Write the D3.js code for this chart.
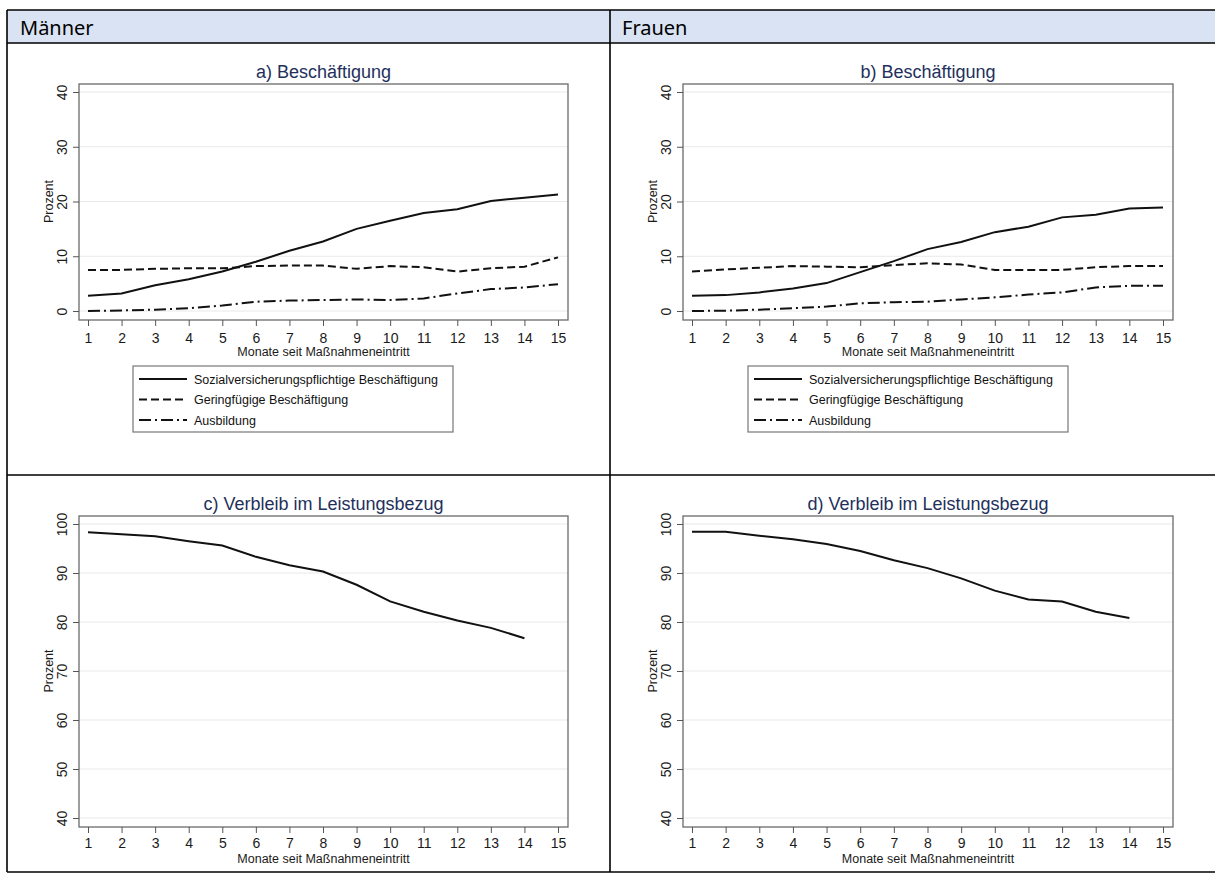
<!DOCTYPE html>
<html>
<head>
  <meta charset="utf-8">
  <title>Beschäftigung und Leistungsbezug</title>
  <script src="https://d3js.org/d3.v7.min.js"></script>
  <style>
    body { margin: 0; background: #fff; }
    text { font-family: "Liberation Sans", Arial, sans-serif; }
  </style>
</head>
<body>

  <svg></svg>

  <script>

    // months since entry (x axis)
    var months = [1, 2, 3, 4, 5, 6, 7, 8, 9, 10, 11, 12, 13, 14, 15];

    // Männer: employment shares (percent)
    var menSvb     = [2.8, 3.2, 4.7, 5.8, 7.2, 9.0, 11.0, 12.7, 15.0, 16.5, 17.9, 18.6, 20.1, 20.7, 21.3];
    var menGering  = [7.5, 7.5, 7.7, 7.8, 7.8, 8.2, 8.3, 8.3, 7.7, 8.2, 8.0, 7.2, 7.8, 8.1, 9.8];
    var menAusb    = [0.0, 0.1, 0.25, 0.5, 1.0, 1.7, 1.9, 2.0, 2.1, 2.0, 2.3, 3.2, 4.0, 4.3, 4.9];

    // Frauen: employment shares (percent)
    var womenSvb    = [2.8, 2.9, 3.4, 4.1, 5.1, 7.1, 9.1, 11.3, 12.6, 14.4, 15.4, 17.1, 17.6, 18.7, 18.9];
    var womenGering = [7.2, 7.6, 7.9, 8.2, 8.1, 8.0, 8.4, 8.7, 8.5, 7.5, 7.5, 7.5, 8.0, 8.2, 8.2];
    var womenAusb   = [0.0, 0.05, 0.25, 0.5, 0.8, 1.4, 1.6, 1.7, 2.1, 2.5, 3.0, 3.4, 4.3, 4.6, 4.6];

    // still receiving benefits (percent), months 1..14
    var menLeist   = [98.3, 97.9, 97.5, 96.5, 95.6, 93.3, 91.6, 90.3, 87.6, 84.2, 82.1, 80.3, 78.8, 76.7];
    var womenLeist = [98.4, 98.4, 97.6, 96.9, 95.9, 94.5, 92.6, 91.0, 88.9, 86.4, 84.6, 84.2, 82.1, 80.8];

    var employTicks = [0, 10, 20, 30, 40];
    var leistTicks  = [40, 50, 60, 70, 80, 90, 100];

    var legendLabels = ["Sozialversicherungspflichtige Beschäftigung", "Geringfügige Beschäftigung", "Ausbildung"];
    var dashes = [null, "8,4", "12,4,2,4"];

    var svg = d3.select("svg")
        .attr("width", 1215)
        .attr("height", 874);

    // table frame around the four graphs
    svg.append("rect")
        .attr("x", 7).attr("y", 10)
        .attr("width", 1208).attr("height", 33)
        .attr("fill", "#dae3f3");

    var tableLines = [
      [7, 10, 1215, 10], [7, 43, 1215, 43], [7, 475, 1215, 475], [7, 872, 1215, 872],
      [7, 10, 7, 872], [610, 10, 610, 872]
    ];
    svg.selectAll(".tline")
      .data(tableLines)
      .enter().append("line")
        .attr("x1", function(d) { return d[0]; })
        .attr("y1", function(d) { return d[1]; })
        .attr("x2", function(d) { return d[2]; })
        .attr("y2", function(d) { return d[3]; })
        .attr("stroke", "#000")
        .attr("stroke-width", 1.6);

    svg.append("text").attr("x", 20).attr("y", 35)
        .style("font-family", "'Noto Sans', sans-serif").style("font-size", "20px")
        .text("Männer");
    svg.append("text").attr("x", 622).attr("y", 35)
        .style("font-family", "'Noto Sans', sans-serif").style("font-size", "20px")
        .text("Frauen");

    function drawPanel(cfg) {
      var g = svg.append("g");

      var x = d3.scaleLinear().domain([1, 15]).range([cfg.left + 9, cfg.right - 10]);
      var y = d3.scaleLinear().domain(d3.extent(cfg.ticks)).range([cfg.bottom - 9, cfg.top + 8]);

      // grid lines
      g.selectAll(".grid")
        .data(cfg.ticks)
        .enter().append("line")
          .attr("x1", cfg.left).attr("x2", cfg.right)
          .attr("y1", function(d) { return y(d); })
          .attr("y2", function(d) { return y(d); })
          .attr("stroke", "#e9e9e9")
          .attr("stroke-width", 1);

      // plot region frame
      g.append("rect")
          .attr("x", cfg.left).attr("y", cfg.top)
          .attr("width", cfg.right - cfg.left).attr("height", cfg.bottom - cfg.top)
          .attr("fill", "none")
          .attr("stroke", "#6a6a6a")
          .attr("stroke-width", 1.3);

      // y axis with rotated labels
      var yAxis = g.append("g")
          .attr("transform", "translate(" + cfg.left + ",0)")
          .call(d3.axisLeft(y).tickValues(cfg.ticks).tickSize(6));
      yAxis.select(".domain").remove();
      yAxis.selectAll("line").attr("stroke", "#555");
      yAxis.selectAll("text")
          .attr("x", 0).attr("y", -12).attr("dy", 0)
          .attr("transform", "rotate(-90)")
          .attr("text-anchor", "middle")
          .attr("fill", "#1a1a1a")
          .style("font-size", "14px");

      // x axis
      var xAxis = g.append("g")
          .attr("transform", "translate(0," + cfg.bottom + ")")
          .call(d3.axisBottom(x).tickValues(months).tickSize(6).tickPadding(cfg.xPad));
      xAxis.select(".domain").remove();
      xAxis.selectAll("line").attr("stroke", "#555");
      xAxis.selectAll("text")
          .attr("fill", "#1a1a1a")
          .style("font-size", "14px");

      // axis titles
      g.append("text")
          .attr("transform", "translate(" + (cfg.left - 26) + "," + ((y.range()[0] + y.range()[1]) / 2) + ") rotate(-90)")
          .attr("text-anchor", "middle")
          .attr("fill", "#1a1a1a")
          .style("font-size", "12.5px")
          .text("Prozent");

      g.append("text")
          .attr("x", (cfg.left + cfg.right) / 2)
          .attr("y", cfg.bottom + cfg.xTitle)
          .attr("text-anchor", "middle")
          .attr("fill", "#1a1a1a")
          .style("font-size", "12.5px")
          .text("Monate seit Maßnahmeneintritt");

      // chart title
      g.append("text")
          .attr("x", (cfg.left + cfg.right) / 2)
          .attr("y", cfg.top - 6)
          .attr("text-anchor", "middle")
          .attr("fill", "#23305c")
          .style("font-size", "18px")
          .text(cfg.title);

      // series lines
      var line = d3.line()
          .x(function(d, i) { return x(months[i]); })
          .y(function(d) { return y(d); });

      cfg.series.forEach(function(s, i) {
        g.append("path")
            .datum(s)
            .attr("fill", "none")
            .attr("stroke", "#111")
            .attr("stroke-width", 2)
            .attr("stroke-dasharray", dashes[i])
            .attr("d", line);
      });

      // legend
      if (cfg.legendX) {
        var lg = g.append("g").attr("transform", "translate(" + cfg.legendX + "," + cfg.legendY + ")");
        lg.append("rect")
            .attr("width", 320).attr("height", 66)
            .attr("fill", "#fff")
            .attr("stroke", "#777")
            .attr("stroke-width", 1.2);
        legendLabels.forEach(function(lab, i) {
          var yy = 13 + i * 20.5;
          lg.append("line")
              .attr("x1", 6).attr("x2", 54)
              .attr("y1", yy).attr("y2", yy)
              .attr("stroke", "#111")
              .attr("stroke-width", 2)
              .attr("stroke-dasharray", dashes[i]);
          lg.append("text")
              .attr("x", 61).attr("y", yy + 4.5)
              .attr("fill", "#111")
              .style("font-size", "12.5px")
              .text(lab);
        });
      }
    }

    drawPanel({ title: "a) Beschäftigung", left: 79, right: 568, top: 84, bottom: 320,
                ticks: employTicks, series: [menSvb, menGering, menAusb],
                xPad: 7, xTitle: 36, legendX: 133, legendY: 366 });
    drawPanel({ title: "b) Beschäftigung", left: 683, right: 1173, top: 84, bottom: 320,
                ticks: employTicks, series: [womenSvb, womenGering, womenAusb],
                xPad: 7, xTitle: 36, legendX: 748, legendY: 366 });
    drawPanel({ title: "c) Verbleib im Leistungsbezug", left: 79, right: 568, top: 516, bottom: 827,
                ticks: leistTicks, series: [menLeist],
                xPad: 5, xTitle: 36 });
    drawPanel({ title: "d) Verbleib im Leistungsbezug", left: 683, right: 1173, top: 516, bottom: 827,
                ticks: leistTicks, series: [womenLeist],
                xPad: 5, xTitle: 36 });

  </script>

</body>
</html>
